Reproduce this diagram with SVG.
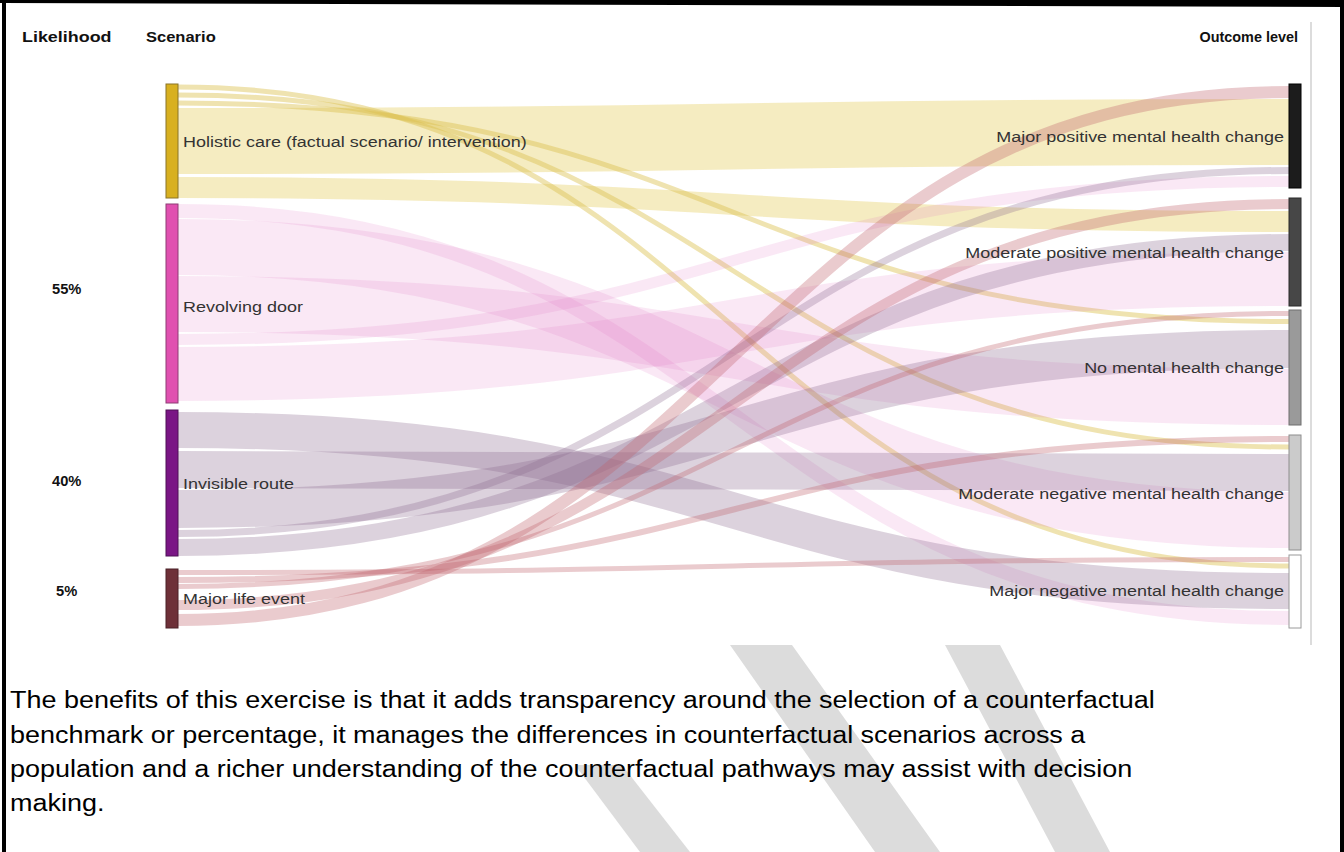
<svg xmlns="http://www.w3.org/2000/svg" width="1344" height="852" viewBox="0 0 1344 852">
<style>
.hd{font-family:"Liberation Sans",Arial,sans-serif;font-size:14px;font-weight:bold;fill:#111}
.pc{font-family:"Liberation Sans",Arial,sans-serif;font-size:14px;font-weight:bold;fill:#111}
.lb{font-family:"Liberation Sans",Arial,sans-serif;font-size:14.5px;fill:#333}
.rt{text-anchor:end}
.para{font-family:"Liberation Sans",Arial,sans-serif;font-size:23px;fill:#000}
.lk{fill:none}
.g{stroke:#e3c84e;stroke-opacity:0.35}
.gt{stroke:#dcc050;stroke-opacity:0.45}
.p{stroke:#e070c0;stroke-opacity:0.16}
.v{stroke:#8a6a90;stroke-opacity:0.3}
.m{stroke:#c0606a;stroke-opacity:0.33}
.wm{fill:#dcdcdc}
</style>
<rect x="0" y="0" width="1344" height="852" fill="#fff"/>
<g id="watermark">
<polygon class="wm" points="730,645 792,645 940,852 875,852"/>
<polygon class="wm" points="945,645 1000,645 1110,852 1055,852"/>
<polygon class="wm" points="575,765 622,765 690,852 640,852"/>
</g>
<g id="frame">
<polygon points="0,0 1344,0 1344,7 0,3" fill="#000"/>
<rect x="2" y="0" width="4" height="852" fill="#000"/>
<rect x="1340" y="0" width="4" height="852" fill="#000"/>
<rect x="1310" y="22" width="2" height="623" fill="#dcdcdc"/>
</g>
<g id="headers">
<text class="hd" transform="translate(22 42) scale(1.28 1)">Likelihood</text>
<text class="hd" transform="translate(146 42) scale(1.18 1)">Scenario</text>
<text class="hd rt" transform="translate(1298 42) scale(1.03 1)">Outcome level</text>
<text class="pc" transform="translate(52 294) scale(1.05 1)">55%</text>
<text class="pc" transform="translate(52 486) scale(1.05 1)">40%</text>
<text class="pc" transform="translate(56 596) scale(1.05 1)">5%</text>
</g>
<g id="connectors">
<path class="lk g" stroke-width="66" d="M178,141 C733.5,141 733.5,132 1289,132"/>
<path class="lk g" stroke-width="21" d="M178,187.5 C733.5,187.5 733.5,221.5 1289,221.5"/>
<path class="lk gt" stroke-width="5" d="M178,87 C733.5,87 733.5,566 1289,566"/>
<path class="lk gt" stroke-width="5" d="M178,95 C733.5,95 733.5,447 1289,447"/>
<path class="lk gt" stroke-width="5" d="M178,103 C733.5,103 733.5,321.5 1289,321.5"/>
<path class="lk p" stroke-width="14" d="M178,211 C733.5,211 733.5,618 1289,618"/>
<path class="lk p" stroke-width="56" d="M178,247 C733.5,247 733.5,520 1289,520"/>
<path class="lk p" stroke-width="56" d="M178,304 C733.5,304 733.5,397 1289,397"/>
<path class="lk p" stroke-width="11" d="M178,339.5 C733.5,339.5 733.5,181.5 1289,181.5"/>
<path class="lk p" stroke-width="54" d="M178,374 C733.5,374 733.5,279 1289,279"/>
<path class="lk v" stroke-width="36" d="M178,430 C733.5,430 733.5,591 1289,591"/>
<path class="lk v" stroke-width="37" d="M178,469.5 C733.5,469.5 733.5,472.5 1289,472.5"/>
<path class="lk v" stroke-width="38" d="M178,509 C733.5,509 733.5,349 1289,349"/>
<path class="lk v" stroke-width="7" d="M178,533.5 C733.5,533.5 733.5,170.5 1289,170.5"/>
<path class="lk v" stroke-width="17" d="M178,547.5 C733.5,547.5 733.5,242.5 1289,242.5"/>
<path class="lk m" stroke-width="5" d="M178,572.5 C733.5,572.5 733.5,559.5 1289,559.5"/>
<path class="lk m" stroke-width="6" d="M178,580 C733.5,580 733.5,439 1289,439"/>
<path class="lk m" stroke-width="5" d="M178,586.5 C733.5,586.5 733.5,313.5 1289,313.5"/>
<path class="lk m" stroke-width="10" d="M178,605 C733.5,605 733.5,204 1289,204"/>
<path class="lk m" stroke-width="12" d="M178,620 C733.5,620 733.5,92 1289,92"/>
</g>
<g id="node-holistic">
<rect x="166" y="84" width="12" height="114" fill="#d8b020" stroke="#8a7428" stroke-width="1"/>
<text class="lb" transform="translate(183 147) scale(1.24 1)">Holistic care (factual scenario/ intervention)</text>
</g>
<g id="node-revolving">
<rect x="166" y="204" width="12" height="199" fill="#e050b0" stroke="#8e3c74" stroke-width="1"/>
<text class="lb" transform="translate(183 312) scale(1.24 1)">Revolving door</text>
</g>
<g id="node-invisible">
<rect x="166" y="410" width="12" height="146" fill="#7a1585" stroke="#4e1056" stroke-width="1"/>
<text class="lb" transform="translate(183 489) scale(1.24 1)">Invisible route</text>
</g>
<g id="node-majorlife">
<rect x="166" y="569" width="12" height="59" fill="#6e3038" stroke="#4a2026" stroke-width="1"/>
<text class="lb" transform="translate(183 604) scale(1.24 1)">Major life event</text>
</g>
<g id="node-majpos">
<rect x="1289" y="84" width="12" height="104" fill="#1c1c1c" stroke="#000" stroke-width="1"/>
<text class="lb rt" transform="translate(1284 142) scale(1.24 1)">Major positive mental health change</text>
</g>
<g id="node-modpos">
<rect x="1289" y="198" width="12" height="108" fill="#474747" stroke="#2a2a2a" stroke-width="1"/>
<text class="lb rt" transform="translate(1284 258) scale(1.24 1)">Moderate positive mental health change</text>
</g>
<g id="node-nochange">
<rect x="1289" y="310" width="12" height="115" fill="#9a9a9a" stroke="#6e6e6e" stroke-width="1"/>
<text class="lb rt" transform="translate(1284 373) scale(1.24 1)">No mental health change</text>
</g>
<g id="node-modneg">
<rect x="1289" y="435" width="12" height="115" fill="#cbcbcb" stroke="#8e8e8e" stroke-width="1"/>
<text class="lb rt" transform="translate(1284 499) scale(1.24 1)">Moderate negative mental health change</text>
</g>
<g id="node-majneg">
<rect x="1289" y="555" width="12" height="73" fill="#ffffff" stroke="#9a9a9a" stroke-width="1"/>
<text class="lb rt" transform="translate(1284 596) scale(1.24 1)">Major negative mental health change</text>
</g>
<g id="paragraph">
<text class="para" transform="translate(10 708) scale(1.173 1)">The benefits of this exercise is that it adds transparency around the selection of a counterfactual</text>
<text class="para" transform="translate(10 743) scale(1.173 1)">benchmark or percentage, it manages the differences in counterfactual scenarios across a</text>
<text class="para" transform="translate(10 777) scale(1.173 1)">population and a richer understanding of the counterfactual pathways may assist with decision</text>
<text class="para" transform="translate(10 811) scale(1.173 1)">making.</text>
</g>
</svg>
